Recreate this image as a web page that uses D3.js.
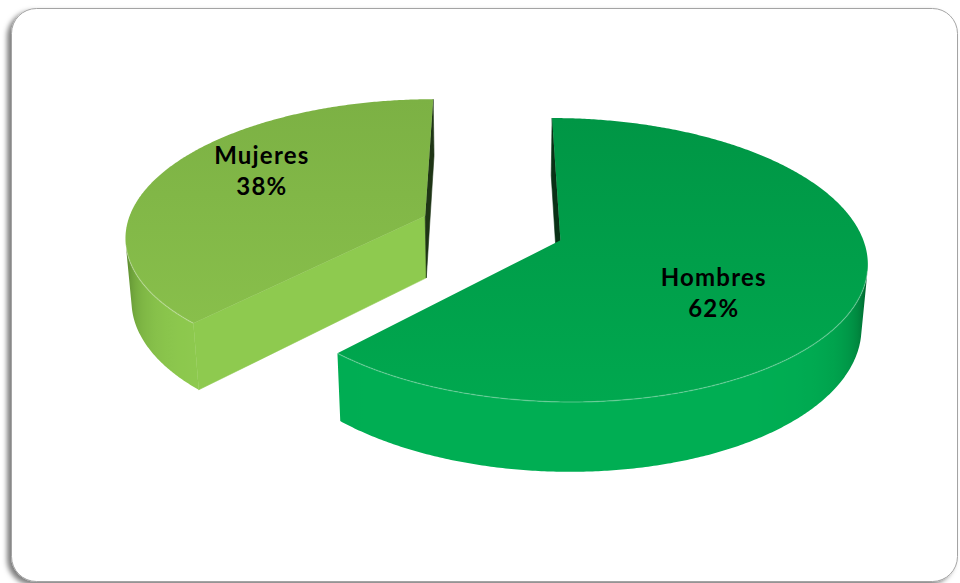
<!DOCTYPE html>
<html>
<head>
<meta charset="utf-8">
<script src="https://cdn.jsdelivr.net/npm/d3@7"></script>
<style>
  html, body { margin: 0; padding: 0; background: #ffffff; }
  svg { display: block; }
</style>
</head>
<body>
<svg id="chart" width="960" height="583"></svg>
<script>
// ---- data ----
const categories = ["Hombres", "Mujeres"];
const values = [62, 38];

// ---- styles ----
const topColors  = [["#009645", "#00a84f"], ["#7cb144", "#88bf4b"]];
const wallColors = ["#00ae53", "#8fcb4f"];
const wallDark   = ["#004a20", "#4a7524"];
const cutDark    = "#0b1a0b";

// ---- 3D view of the pie (unit radius disc, camera tilted above it) ----
const view = { focal: 1945, dist: 6.5, tilt: 27 * Math.PI / 180, cx: 492, cy: 228 };
const thickness = 0.238;    // disc height relative to radius
const explode = 0.243;      // offset of every slice along its bisector
const labelFrac = 0.57;     // where the label sits within the slice sweep
const labelRadius = [0.59, 0.69];

const sinT = Math.sin(view.tilt), cosT = Math.cos(view.tilt);
const camera = [0, view.dist * sinT, -view.dist * cosT];

function project([X, Y, Z]) {
  const v = Z * sinT + Y * cosT;
  const w = view.dist + Z * cosT - Y * sinT;
  return [view.cx + view.focal * X / w, view.cy - view.focal * v / w];
}
function facing(n, p) {
  const d = [camera[0] - p[0], camera[1] - p[1], camera[2] - p[2]];
  const len = Math.hypot(d[0], d[1], d[2]);
  return (n[0] * d[0] + n[1] * d[1] + n[2] * d[2]) / len;
}
function shade(dark, light, f) {
  const t = Math.max(0, Math.min(1, f / 0.85));
  const b = 1 - Math.pow(1 - t, 4);
  return d3.interpolateRgb(dark, light)(b);
}

const svg = d3.select("#chart");
const defs = svg.append("defs");

// ---- card frame ----
const shadow = defs.append("filter").attr("id", "cardShadow")
  .attr("x", "-3%").attr("y", "-3%").attr("width", "106%").attr("height", "106%");
shadow.append("feDropShadow")
  .attr("dx", -4).attr("dy", 3).attr("stdDeviation", 2.5)
  .attr("flood-color", "#000").attr("flood-opacity", 0.5);

svg.append("rect")
  .attr("x", 11.5).attr("y", 8.5)
  .attr("width", 946).attr("height", 573)
  .attr("rx", 25).attr("ry", 25)
  .attr("fill", "#ffffff")
  .attr("stroke", "#a4a4a4").attr("stroke-width", 1)
  .attr("filter", "url(#cardShadow)");

// ---- pie ----
const rows = categories.map((c, i) => ({ category: c, value: values[i], index: i }));
const slices = d3.pie().sort(null).value(d => d.value)(rows);
const line = d3.line();
const pieLayer = svg.append("g").attr("class", "pie");

// draw the slice further back first
const order = slices.slice().sort((a, b) => {
  const ma = (a.startAngle + a.endAngle) / 2, mb = (b.startAngle + b.endAngle) / 2;
  return Math.cos(mb) - Math.cos(ma);
});

order.forEach(s => {
  const i = s.data.index;
  const mid = (s.startAngle + s.endAngle) / 2;
  const ox = explode * Math.sin(mid), oz = explode * Math.cos(mid);
  const rim = (a, y) => [ox + Math.sin(a), y, oz + Math.cos(a)];
  const apex = y => [ox, y, oz];
  const g = pieLayer.append("g").attr("class", "slice");

  const steps = Math.ceil((s.endAngle - s.startAngle) / (Math.PI / 360));
  const angles = d3.range(steps + 1).map(k => s.startAngle + (s.endAngle - s.startAngle) * k / steps);

  // visible part of the outer curved wall
  const vis = angles.filter(a => facing([Math.sin(a), 0, Math.cos(a)], rim(a, -thickness / 2)) > 0);
  if (vis.length > 1) {
    const topArc = vis.map(a => project(rim(a, 0)));
    const botArc = vis.map(a => project(rim(a, -thickness))).reverse();
    const xs = topArc.map(p => p[0]);
    const xMin = d3.min(xs), xMax = d3.max(xs);
    const wallId = "wallGrad" + i;
    const wg = defs.append("linearGradient").attr("id", wallId)
      .attr("gradientUnits", "userSpaceOnUse")
      .attr("x1", xMin).attr("y1", 0).attr("x2", xMax).attr("y2", 0);
    const stops = vis.map((a, k) => ({
      off: (topArc[k][0] - xMin) / (xMax - xMin),
      col: shade(wallDark[i], wallColors[i], facing([Math.sin(a), 0, Math.cos(a)], rim(a, -thickness / 2)))
    })).sort((p, q) => p.off - q.off);
    wg.selectAll("stop").data(stops.filter((d, k) => k % 3 === 0 || k === stops.length - 1)).join("stop")
      .attr("offset", d => d.off)
      .attr("stop-color", d => d.col);

    g.append("path")
      .attr("class", "wall")
      .attr("d", line(topArc.concat(botArc)) + "Z")
      .attr("fill", `url(#${wallId})`);
  }

  // radial cut faces
  const cuts = [
    { a: s.startAngle, n: [-Math.cos(s.startAngle), 0, Math.sin(s.startAngle)] },
    { a: s.endAngle,   n: [Math.cos(s.endAngle), 0, -Math.sin(s.endAngle)] }
  ].map(c => ({ ...c, f: facing(c.n, apex(-thickness / 2)) }))
   .filter(c => c.f > 0);
  g.selectAll("path.cut").data(cuts).join("path")
    .attr("class", "cut")
    .attr("d", c => line([apex(0), rim(c.a, 0), rim(c.a, -thickness), apex(-thickness)].map(project)) + "Z")
    .attr("fill", c => shade(cutDark, wallColors[i], c.f))
    .attr("stroke", c => shade(cutDark, wallColors[i], c.f))
    .attr("stroke-width", 0.6);

  // top face
  const gradId = "topGrad" + i;
  const grad = defs.append("linearGradient").attr("id", gradId)
    .attr("x1", 0).attr("y1", 0).attr("x2", 0).attr("y2", 1);
  grad.append("stop").attr("offset", "0%").attr("stop-color", topColors[i][0]);
  grad.append("stop").attr("offset", "100%").attr("stop-color", topColors[i][1]);

  const topPts = [apex(0)].concat(angles.map(a => rim(a, 0)));
  g.append("path")
    .attr("class", "top")
    .attr("d", line(topPts.map(project)) + "Z")
    .attr("fill", `url(#${gradId})`);

  // soft bevel light along the front rim
  if (vis.length > 1) {
    g.append("path")
      .attr("class", "bevel")
      .attr("d", line(vis.map(a => project(rim(a, 0)))))
      .attr("fill", "none")
      .attr("stroke", "#ffffff")
      .attr("stroke-opacity", 0.22)
      .attr("stroke-width", 1.4);
  }

  // label
  const la = s.startAngle + (s.endAngle - s.startAngle) * labelFrac;
  const lr = labelRadius[i];
  const [lx, ly] = project([ox + lr * Math.sin(la), 0, oz + lr * Math.cos(la)]);
  const txt = g.append("text")
    .attr("text-anchor", "middle")
    .attr("font-family", "Lato, 'Open Sans', sans-serif")
    .attr("font-weight", 700)
    .attr("font-size", 24)
    .attr("letter-spacing", 1.2)
    .attr("fill", "#000000");
  txt.append("tspan").attr("x", lx).attr("y", ly - 7).text(s.data.category);
  txt.append("tspan").attr("x", lx).attr("y", ly + 24).text(`${s.data.value}%`);
});
</script>
</body>
</html>
